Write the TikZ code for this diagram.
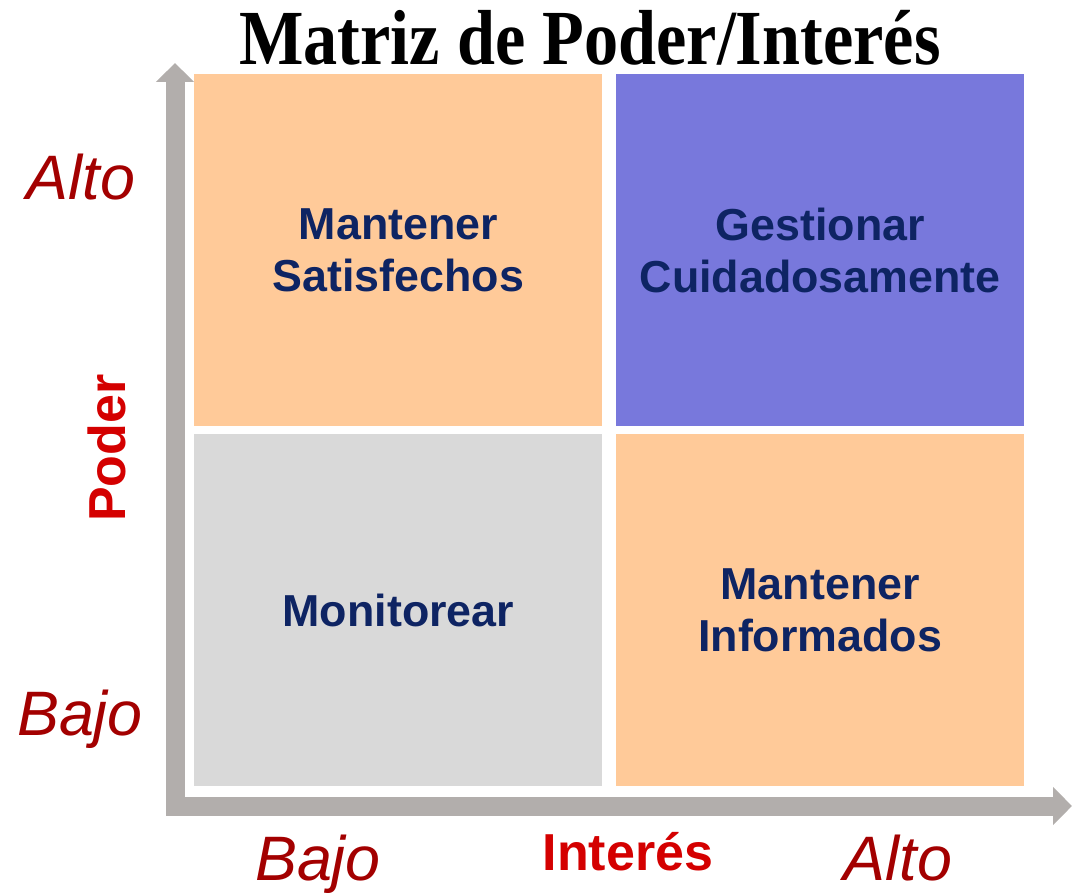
\documentclass[tikz,border=0pt]{standalone}
\usepackage{fontspec}
\setmainfont{Liberation Serif}
\setsansfont{Liberation Sans}
\usetikzlibrary{positioning, arrows.meta}
\definecolor{quadorange}{HTML}{FFCA99}
\definecolor{quadpurple}{HTML}{7878DC}
\definecolor{quadgray}{HTML}{D9D9D9}
\definecolor{quadtext}{HTML}{0E2463}
\definecolor{axisgray}{HTML}{B2AEAC}
\definecolor{levelred}{HTML}{A30000}
\definecolor{axisred}{HTML}{D40000}

\begin{document}
\begin{tikzpicture}[
	x=0.5pt, y=-0.5pt,
	quad/.style={rectangle, inner sep=0pt, minimum width=204pt, minimum height=176pt, align=center, text=quadtext, font=\sffamily\bfseries\fontsize{22.4}{26}\selectfont},
	axis/.style={line width=9.5pt, draw=axisgray, -{Triangle[width=18.5pt, length=9.5pt]}},
	level/.style={anchor=base, text=levelred, font=\sffamily\itshape\fontsize{31.4}{36}\selectfont},
	axlabel/.style={anchor=base, text=axisred, font=\sffamily\bfseries\fontsize{26}{30}\selectfont},
	titletext/.style={anchor=base, xscale=0.875, font=\rmfamily\bfseries\fontsize{39}{44}\selectfont}
]
\useasboundingbox (0,0) rectangle (1075,893);

\node[titletext] (title) at (590,65) {Matriz de Poder/Interés};

\node[quad, fill=quadorange, anchor=north west] (satisf) at (194,74) {Mantener\\Satisfechos};
\node[quad, fill=quadpurple, right=6.5pt of satisf] (gestion) {Gestionar\\Cuidadosamente};
\node[quad, fill=quadgray, below=3.5pt of satisf] (monitor) {Monitorear};
\node[quad, fill=quadorange, below=3.5pt of gestion] (inform) {Mantener\\Informados};

\coordinate (origin) at (175,815);
\coordinate (ytip) at (175,63);
\coordinate (xstart) at (166,806);
\coordinate (xtip) at (1072,806);
\draw[axis] (origin) -- (ytip);
\draw[axis] (xstart) -- (xtip);

\node[level] (yhigh) at (81,200) {Alto};
\node[level] (ylow) at (80,735) {Bajo};
\node[level] (xlow) at (318,880) {Bajo};
\node[level] (xhigh) at (898,880) {Alto};

\node[axlabel, rotate=90] (power) at (125,448) {Poder};
\node[axlabel] (interest) at (628,870) {Interés};

\end{tikzpicture}
\end{document}
